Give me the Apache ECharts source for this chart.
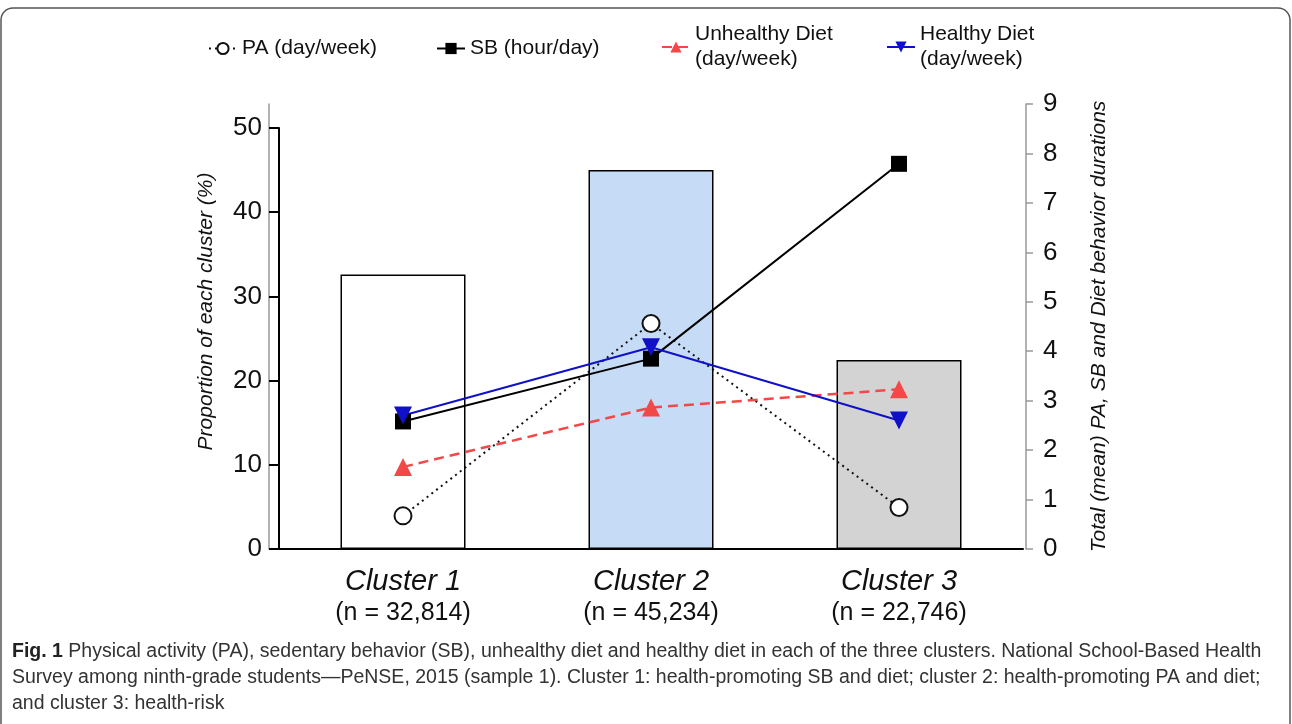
<!DOCTYPE html>
<html>
<head>
<meta charset="utf-8">
<script src="https://cdn.jsdelivr.net/npm/echarts@6/dist/echarts.min.js"></script>
<style>
  html, body { margin: 0; padding: 0; background: #fff; }
  #chart { width: 1292px; height: 724px; }
</style>
</head>
<body>
<div id="chart"></div>
<script>
// 数据
var clusters = ['Cluster 1', 'Cluster 2', 'Cluster 3'];
var clusterN = ['(n = 32,814)', '(n = 45,234)', '(n = 22,746)'];
var proportion = [32.6, 45.0, 22.45];
var paDays = [0.67, 4.56, 0.84];
var sbHours = [2.58, 3.85, 7.79];
var unhealthyDays = [1.66, 2.86, 3.23];
var healthyDays = [2.70, 4.08, 2.60];
var barColors = ['#ffffff', '#c6dbf5', '#d3d3d3'];
var captionLines = [
    'Physical activity (PA), sedentary behavior (SB), unhealthy diet and healthy diet in each of the three clusters. National School-Based Health',
    'Survey among ninth-grade students\u2014PeNSE, 2015 (sample 1). Cluster 1: health-promoting SB and diet; cluster 2: health-promoting PA and diet;',
    'and cluster 3: health-risk'
];

var myChart = echarts.init(document.getElementById('chart'));

var font = 'Liberation Sans, Arial, sans-serif';
var capFont = 'Liberation Sans, Arial, sans-serif';

// 图例，每项单独放
function oneLegend(name, left, top) {
    return {
        data: [name],
        left: left,
        top: top,
        itemWidth: 28,
        itemHeight: 14,
        selectedMode: false,
        textStyle: { fontFamily: font, fontSize: 21, color: '#111', lineHeight: 25 },
        formatter: function (n) {
            return n.indexOf('Diet') > -1 ? n.replace(' (', '\n(') : n
        }
    }
}

var option = {
    backgroundColor: '#fff',
    animation: false,
    legend: [
        oneLegend('PA (day/week)', 203, 31),
        oneLegend('SB (hour/day)', 431, 31),
        oneLegend('Unhealthy Diet (day/week)', 656, 17),
        oneLegend('Healthy Diet (day/week)', 881, 17)
    ],
    grid: [
        { left: 279, right: 269, top: 128, bottom: 175 },
        { left: 279, right: 269, top: 104, bottom: 175 }
    ],
    xAxis: [{
        type: 'category',
        gridIndex: 0,
        data: clusters,
        axisLine: { lineStyle: { color: '#000', width: 2 } },
        axisTick: { alignWithLabel: true, length: 10, lineStyle: { color: '#000', width: 2 } },
        axisLabel: {
            margin: 16,
            formatter: function (v, i) {
                return '{a|' + v + '}\n{b|' + clusterN[i] + '}'
            },
            rich: {
                a: { fontFamily: font, fontSize: 29, fontStyle: 'italic', color: '#111', lineHeight: 34 },
                b: { fontFamily: font, fontSize: 25, color: '#111', lineHeight: 28 }
            }
        }
    }, {
        type: 'category',
        gridIndex: 1,
        data: clusters,
        show: false
    }],
    yAxis: [{
        type: 'value',
        gridIndex: 0,
        min: 0,
        max: 50,
        interval: 10,
        name: 'Proportion of each cluster (%)',
        nameLocation: 'middle',
        nameGap: 62,
        nameRotate: 90,
        nameTextStyle: { fontFamily: font, fontSize: 21, fontStyle: 'italic', color: '#111', padding: [0, 0, 0, 54] },
        axisLine: { show: true, lineStyle: { color: '#000', width: 2 } },
        axisTick: { show: true, length: 10, lineStyle: { color: '#000', width: 2 } },
        axisLabel: { margin: 17, fontFamily: font, fontSize: 26, color: '#111' },
        splitLine: { show: false }
    }, {
        type: 'value',
        gridIndex: 1,
        position: 'right',
        offset: 3,
        min: 0,
        max: 9,
        interval: 1,
        name: 'Total (mean) PA, SB and Diet behavior durations',
        nameLocation: 'middle',
        nameGap: 63,
        nameRotate: 90,
        nameTextStyle: { fontFamily: font, fontSize: 21, fontStyle: 'italic', color: '#111' },
        axisLine: { show: true, lineStyle: { color: '#999', width: 1.5 } },
        axisTick: { show: true, length: 7, lineStyle: { color: '#999', width: 1.5 } },
        axisLabel: { margin: 17, fontFamily: font, fontSize: 26, color: '#111' },
        splitLine: { show: false }
    }, {
        // 左侧的灰线
        type: 'value',
        gridIndex: 1,
        position: 'left',
        offset: 10,
        min: 0,
        max: 9,
        axisLine: { show: true, lineStyle: { color: '#999', width: 1.5 } },
        axisTick: { show: false },
        axisLabel: { show: false },
        splitLine: { show: false }
    }],
    series: [{
        type: 'bar',
        xAxisIndex: 0,
        yAxisIndex: 0,
        barWidth: 125,
        data: proportion.map(function (v, i) {
            return { value: v, itemStyle: { color: barColors[i] } }
        }),
        itemStyle: { borderColor: '#000', borderWidth: 1.5 }
    }, {
        name: 'PA (day/week)',
        type: 'line',
        xAxisIndex: 1,
        yAxisIndex: 1,
        data: paDays,
        symbol: 'circle',
        symbolSize: 17,
        lineStyle: { color: '#111', width: 2, type: [2, 4] },
        itemStyle: { color: '#fff', borderColor: '#111', borderWidth: 2 }
    }, {
        name: 'SB (hour/day)',
        type: 'line',
        xAxisIndex: 1,
        yAxisIndex: 1,
        data: sbHours,
        symbol: 'rect',
        symbolSize: 16,
        lineStyle: { color: '#000', width: 2 },
        itemStyle: { color: '#000' }
    }, {
        name: 'Unhealthy Diet (day/week)',
        type: 'line',
        xAxisIndex: 1,
        yAxisIndex: 1,
        data: unhealthyDays,
        symbol: 'triangle',
        symbolSize: 18,
        lineStyle: { color: '#f24848', width: 2.5, type: [10, 6] },
        itemStyle: { color: '#f24848' }
    }, {
        name: 'Healthy Diet (day/week)',
        type: 'line',
        xAxisIndex: 1,
        yAxisIndex: 1,
        data: healthyDays,
        symbol: 'triangle',
        symbolRotate: 180,
        symbolSize: 18,
        lineStyle: { color: '#1010c8', width: 2 },
        itemStyle: { color: '#1010c8' }
    }],
    graphic: [{
        type: 'rect',
        silent: true,
        z: -1,
        shape: { x: 1, y: 8, width: 1289, height: 740, r: 12 },
        style: { fill: 'none', stroke: '#555', lineWidth: 1.5 }
    }, {
        type: 'text',
        left: 12,
        top: 642,
        style: {
            text: '{f|Fig. 1} ' + captionLines[0],
            rich: { f: { fontFamily: capFont, fontSize: 19.5, fontWeight: 'bold', fill: '#222' } },
            font: '19.5px ' + capFont,
            fill: '#333'
        }
    }, {
        type: 'text',
        left: 12,
        top: 668,
        style: { text: captionLines[1], font: '19.5px ' + capFont, fill: '#333' }
    }, {
        type: 'text',
        left: 12,
        top: 694,
        style: { text: captionLines[2], font: '19.5px ' + capFont, fill: '#333' }
    }]
};

myChart.setOption(option);
</script>
</body>
</html>
